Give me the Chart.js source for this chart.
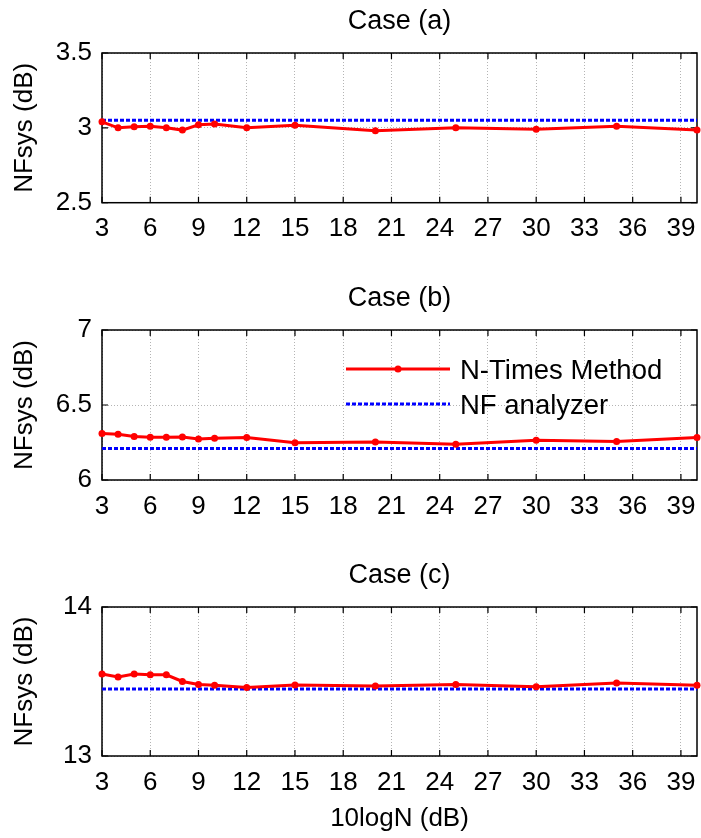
<!DOCTYPE html>
<html>
<head>
<meta charset="utf-8">
<script src="https://cdn.jsdelivr.net/npm/chart.js@4.4.1/dist/chart.umd.min.js"></script>
<style>
  body { margin: 0; background: #fff; }
  #wrap { position: relative; width: 701px; height: 838px; background: #fff; }
  #wrap canvas { position: absolute; left: 0; }
</style>
</head>
<body>
<div id="wrap">
  <canvas id="case-a-id" width="701" height="277" style="top:0px"></canvas>
  <canvas id="case-b-id" width="701" height="277" style="top:277px"></canvas>
  <canvas id="case-c-id" width="701" height="284" style="top:554px"></canvas>
</div>
<script>
// ===================== DATA =====================
const xValues = [3, 4, 5, 6, 7, 8, 9, 10, 12, 15, 20, 25, 30, 35, 40];
const xTicks = [3, 6, 9, 12, 15, 18, 21, 24, 27, 30, 33, 36, 39];

const nTimesA = [3.04, 3.00, 3.007, 3.01, 3.00, 2.985, 3.02, 3.025, 3.00, 3.018, 2.98, 3.00, 2.99, 3.01, 2.985];
const nfAnalyzerA = 3.05;
const yTicksA = [2.5, 3, 3.5];

const nTimesB = [6.31, 6.305, 6.29, 6.285, 6.285, 6.287, 6.274, 6.279, 6.283, 6.248, 6.254, 6.239, 6.265, 6.256, 6.283];
const nfAnalyzerB = 6.21;
const yTicksB = [6, 6.5, 7];

const nTimesC = [13.55, 13.53, 13.55, 13.545, 13.545, 13.50, 13.48, 13.475, 13.46, 13.477, 13.47, 13.48, 13.465, 13.49, 13.475];
const nfAnalyzerC = 13.45;
const yTicksC = [13, 14];

const seriesLabels = ['N-Times Method', 'NF analyzer'];

Chart.defaults.font.family = '"Liberation Sans", Arial, sans-serif';
Chart.defaults.color = '#000';

// black box + inward tick marks (matlab style)
const axisFrame = {
  id: 'axisFrame',
  beforeDatasetsDraw(chart) {
    const { ctx, chartArea: a, scales: { x, y } } = chart;
    ctx.save();
    ctx.setLineDash([]);
    ctx.strokeStyle = '#000';
    ctx.lineWidth = 1.5;
    ctx.strokeRect(a.left, a.top, a.right - a.left, a.bottom - a.top);
    ctx.lineWidth = 1.2;
    ctx.beginPath();
    x.ticks.forEach(t => {
      const px = x.getPixelForValue(t.value);
      ctx.moveTo(px, a.bottom); ctx.lineTo(px, a.bottom - 6);
      ctx.moveTo(px, a.top); ctx.lineTo(px, a.top + 6);
    });
    y.ticks.forEach(t => {
      const py = y.getPixelForValue(t.value);
      ctx.moveTo(a.left, py); ctx.lineTo(a.left + 6, py);
      ctx.moveTo(a.right, py); ctx.lineTo(a.right - 6, py);
    });
    ctx.stroke();
    ctx.restore();
  }
};

// legend drawn inside the plot (case b only)
const insideLegend = {
  id: 'insideLegend',
  afterDatasetsDraw(chart) {
    const { ctx, chartArea: a } = chart;
    const x0 = a.left + 244, x1 = a.left + 348;
    ctx.save();
    chart.data.datasets.forEach((ds, i) => {
      const yy = a.top + 39 + i * 35;
      ctx.strokeStyle = ds.borderColor;
      ctx.lineWidth = ds.borderWidth;
      ctx.setLineDash(ds.borderDash || []);
      ctx.beginPath();
      ctx.moveTo(x0, yy);
      ctx.lineTo(x1, yy);
      ctx.stroke();
      if (ds.pointRadius > 0) {
        ctx.fillStyle = ds.pointBackgroundColor;
        ctx.beginPath();
        ctx.arc((x0 + x1) / 2, yy, ds.pointRadius, 0, Math.PI * 2);
        ctx.fill();
      }
      ctx.fillStyle = '#000';
      ctx.font = '27.5px "Liberation Sans", Arial, sans-serif';
      ctx.textBaseline = 'middle';
      ctx.fillText(ds.label, a.left + 358, yy + 2);
    });
    ctx.restore();
  }
};

function makeCase(canvasId, caseTitle, nTimes, nfAnalyzer, yTicks, xAxisHeight, showXTitle, extraPlugins) {
  const ctx = document.getElementById(canvasId);
  if (!ctx) return;
  new Chart(ctx, {
    type: 'line',
    data: {
      datasets: [
        {
          label: seriesLabels[0],
          data: xValues.map((v, i) => ({ x: v, y: nTimes[i] })),
          borderColor: '#ff0000',
          backgroundColor: '#ff0000',
          borderWidth: 3,
          pointRadius: 3.5,
          pointBackgroundColor: '#ff0000',
          pointBorderWidth: 0,
          tension: 0,
          clip: false
        },
        {
          label: seriesLabels[1],
          data: [{ x: xValues[0], y: nfAnalyzer }, { x: xValues[xValues.length - 1], y: nfAnalyzer }],
          borderColor: '#0000ff',
          backgroundColor: '#0000ff',
          borderWidth: 3,
          borderDash: [4, 2],
          pointRadius: 0,
          tension: 0,
          clip: false
        }
      ]
    },
    options: {
      responsive: false,
      animation: false,
      devicePixelRatio: 1,
      layout: { padding: { left: 0, right: 4, top: 0, bottom: 0 } },
      plugins: {
        legend: { display: false },
        tooltip: { enabled: false },
        title: {
          display: true,
          text: caseTitle,
          fullSize: false,
          color: '#000',
          font: { size: 27, weight: 'normal' },
          padding: { top: 5, bottom: 15.6 }
        }
      },
      scales: {
        x: {
          type: 'linear',
          min: 3,
          max: 40,
          afterBuildTicks: s => { s.ticks = xTicks.map(v => ({ value: v })); },
          afterFit: s => { s.height = xAxisHeight; s.paddingLeft = 0; s.paddingRight = 0; },
          ticks: { font: { size: 26 }, color: '#000', padding: 11, maxRotation: 0, autoSkip: false, callback: v => String(v) },
          grid: { color: '#b4b4b4', lineWidth: 1, drawTicks: false },
          border: { display: false, dash: [1, 2] },
          title: {
            display: showXTitle,
            text: '10logN (dB)',
            color: '#000',
            font: { size: 26 },
            padding: { top: 0, bottom: 4 }
          }
        },
        y: {
          type: 'linear',
          min: yTicks[0],
          max: yTicks[yTicks.length - 1],
          afterBuildTicks: s => { s.ticks = yTicks.map(v => ({ value: v })); },
          afterFit: s => { s.width = 102; },
          ticks: { font: { size: 26 }, color: '#000', padding: 10, callback: v => String(v) },
          grid: { color: '#b4b4b4', lineWidth: 1, drawTicks: false },
          border: { display: false, dash: [1, 2] },
          title: {
            display: true,
            text: 'NFsys (dB)',
            color: '#000',
            font: { size: 26 },
            padding: { top: 9, bottom: 0 }
          }
        }
      }
    },
    plugins: [axisFrame].concat(extraPlugins || [])
  });
}

function initNoiseFigureCharts() {
  makeCase('case-a-id', 'Case (a)', nTimesA, nfAnalyzerA, yTicksA, 74.3, false);
  makeCase('case-b-id', 'Case (b)', nTimesB, nfAnalyzerB, yTicksB, 74, false, [insideLegend]);
  makeCase('case-c-id', 'Case (c)', nTimesC, nfAnalyzerC, yTicksC, 82, true);
}

document.addEventListener('DOMContentLoaded', initNoiseFigureCharts);
</script>
</body>
</html>
